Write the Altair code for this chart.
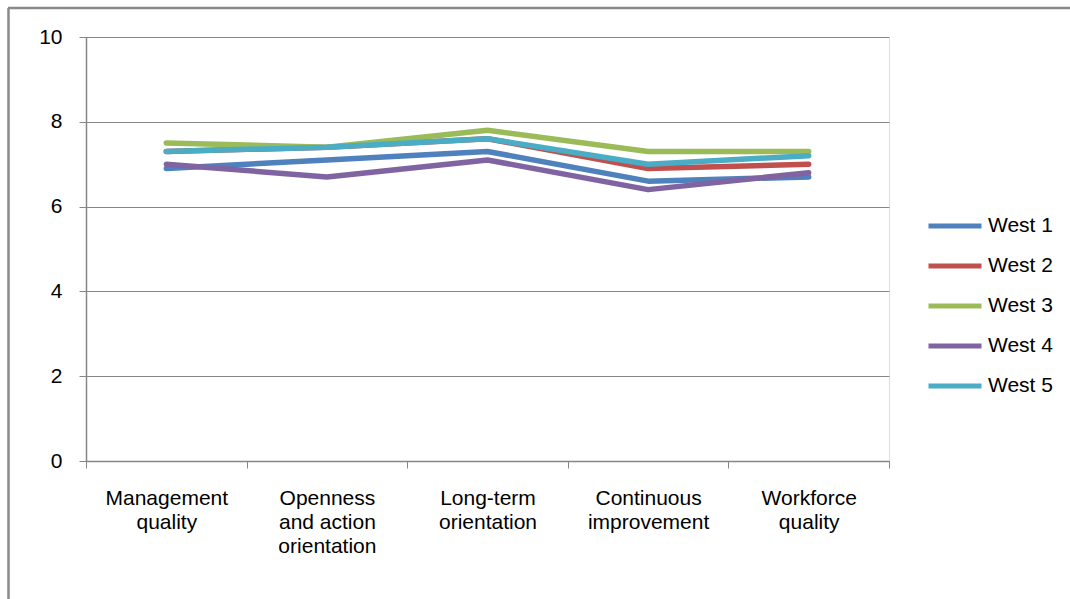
import altair as alt
import pandas as pd

categories = ["Management quality", "Openness and action orientation",
              "Long-term orientation", "Continuous improvement", "Workforce quality"]
label_lines = {
    "Management quality": ["Management", "quality"],
    "Openness and action orientation": ["Openness", "and action", "orientation"],
    "Long-term orientation": ["Long-term", "orientation"],
    "Continuous improvement": ["Continuous", "improvement"],
    "Workforce quality": ["Workforce", "quality"],
}
series = ["West 1", "West 2", "West 3", "West 4", "West 5"]
west1 = [6.9, 7.1, 7.3, 6.6, 6.7]
west2 = [7.3, 7.4, 7.6, 6.9, 7.0]
west3 = [7.5, 7.4, 7.8, 7.3, 7.3]
west4 = [7.0, 6.7, 7.1, 6.4, 6.8]
west5 = [7.3, 7.4, 7.6, 7.0, 7.2]
colors = ["#4F81BD", "#C0504D", "#9BBB59", "#8064A2", "#4BACC6"]
y_ticks = [0, 2, 4, 6, 8, 10]

rows = []
for s, vals in zip(series, [west1, west2, west3, west4, west5]):
    for c, v in zip(categories, vals):
        rows.append({"category": c, "series": s, "value": v})
df = pd.DataFrame(rows)

FONT = "Liberation Sans"
FS = 21
W, H = 803, 424
PAD_L, PAD_T = 86, 37

label_expr = "{" + ", ".join(
    "'" + k + "': [" + ", ".join("'" + p + "'" for p in v) + "]" for k, v in label_lines.items()
) + "}[datum.value]"

lines = alt.Chart(df).mark_line(strokeWidth=5.5, strokeCap="round", strokeJoin="round").encode(
    x=alt.X("category:N", sort=categories, title=None,
            scale=alt.Scale(type="band", paddingInner=0, paddingOuter=0),
            axis=alt.Axis(tickBand="extent", labelAngle=0, labelExpr=label_expr,
                          labelFont=FONT, labelFontSize=FS, labelColor="#000000",
                          labelLineHeight=24, labelBaseline="top", labelPadding=19,
                          tickSize=7, tickColor="#868686", domainColor="#868686",
                          domainWidth=1.5, grid=False)),
    y=alt.Y("value:Q", title=None,
            scale=alt.Scale(domain=[0, 10], nice=False),
            axis=alt.Axis(values=y_ticks, labelFont=FONT, labelFontSize=FS,
                          labelColor="#000000", labelPadding=17, tickSize=7,
                          tickColor="#868686", domainColor="#868686", domainWidth=1.5,
                          gridColor="#868686", gridWidth=1.2)),
    color=alt.Color("series:N", sort=series,
                    scale=alt.Scale(domain=series, range=colors),
                    legend=alt.Legend(title=None, orient="none", legendX=840, legendY=160,
                                      symbolType="stroke", symbolSize=2809,
                                      symbolStrokeWidth=5, labelFont=FONT,
                                      labelFontSize=FS, labelColor="#000000",
                                      labelOffset=4, rowPadding=1)),
    order=alt.Order("series:N"),
)

frame_top = alt.Chart().mark_rule(color="#8a8a8a", strokeWidth=2.5).encode(
    x=alt.value(8 - PAD_L), x2=alt.value(1070 - PAD_L), y=alt.value(8 - PAD_T))
frame_left = alt.Chart().mark_rule(color="#8a8a8a", strokeWidth=2.5).encode(
    x=alt.value(8.5 - PAD_L), y=alt.value(8 - PAD_T), y2=alt.value(599 - PAD_T))

chart = alt.layer(lines, frame_top, frame_left).properties(
    width=W, height=H,
    autosize=alt.AutoSizeParams(type="none"),
    padding={"left": PAD_L, "top": PAD_T, "right": 1070 - PAD_L - W, "bottom": 599 - PAD_T - H},
).configure_view(stroke=None).configure(background="white")

chart.save("out.html", embed_options={"renderer": "svg", "actions": False})
